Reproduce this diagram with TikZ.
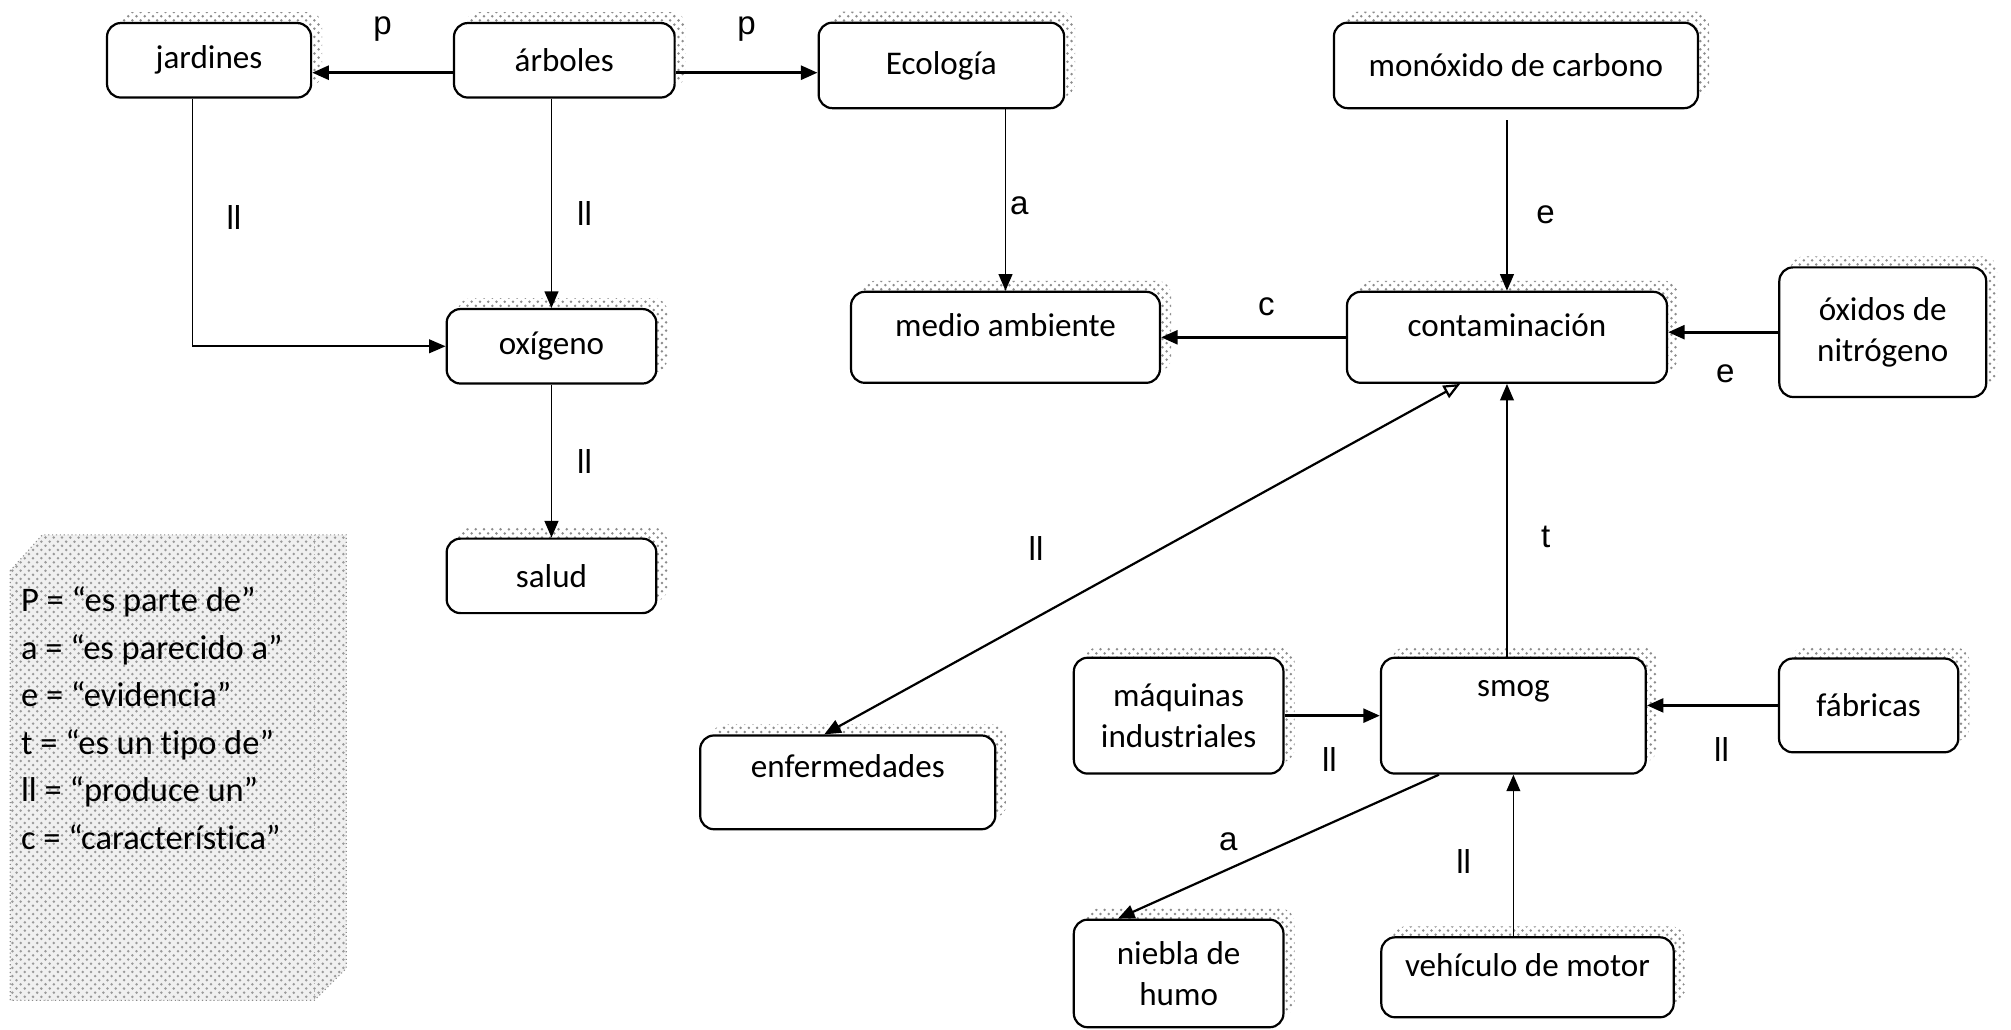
\documentclass[tikz,border=0pt]{standalone}
\usepackage{fontspec}
\setmainfont{Carlito}[Ligatures=NoCommon]
\newfontfamily\arialfont{Liberation Sans}
\usetikzlibrary{calc}
\usetikzlibrary{arrows.meta}
\usetikzlibrary{shadows}
\usetikzlibrary{patterns}

\tikzset{
  concepto/.style={draw=black, line width=0.8pt, rounded corners=5pt, fill=white, align=center,
    font=\fontsize{12}{15}\selectfont, inner sep=2pt,
    general shadow={shadow xshift=4pt, shadow yshift=4pt, pattern=crosshatch dots, pattern color=black!45}},
  flecha/.style={black, line width=0.6pt, -{Triangle[length=6pt,width=5pt]}},
  flechag/.style={flecha, line width=1.1pt},
  rel/.style={font=\arialfont\fontsize{12}{14}\selectfont, inner sep=1pt},
}

\begin{document}
\begin{tikzpicture}[x=0.465pt, y=-0.465pt]

\useasboundingbox (0,0) rectangle (1568,803);

\fill[black!6] (8,445) -- (33,417) -- (270,417) -- (270,755) -- (245,780) -- (8,780) -- cycle;
\fill[pattern=crosshatch dots, pattern color=black!40] (8,445) -- (33,417) -- (270,417) -- (270,755) -- (245,780) -- (8,780) -- cycle;
\draw[black!45, densely dotted] (8,445) -- (33,417) -- (270,417) -- (270,755) -- (245,780) -- (8,780) -- cycle;
\draw[black!30, densely dotted] (245,417) -- (245,780);

\node[font=\fontsize{12.5}{17.2}\selectfont, align=left, anchor=west, inner sep=0pt] (leyenda) at (16,560)
  {P = “es parte de”\\a = “es parecido a”\\e = “evidencia”\\t = “es un tipo de”\\ll = “produce un”\\c = “característica”};

\node[concepto, minimum width=74pt, minimum height=27pt] (jardines) at (163,47) {jardines};
\node[concepto, minimum width=80pt, minimum height=27pt] (arboles) at (440,47) {árboles};
\node[concepto, minimum width=89pt, minimum height=31pt] (ecologia) at (734,51) {Ecología};
\node[concepto, minimum width=132pt, minimum height=31pt] (monoxido) at (1182,51) {monóxido de carbono};
\node[concepto, minimum width=76pt, minimum height=27pt] (oxigeno) at (430,270) {oxígeno};
\node[concepto, minimum width=112pt, minimum height=33pt, text depth=9pt] (medio) at (784,263) {medio ambiente};
\node[concepto, minimum width=116pt, minimum height=33pt, text depth=9pt] (contaminacion) at (1175,263) {contaminación};
\node[concepto, minimum width=75pt, minimum height=47pt] (oxidos) at (1468,259) {óxidos de\\nitrógeno};
\node[concepto, minimum width=76pt, minimum height=27pt] (salud) at (430,449) {salud};
\node[concepto, minimum width=76pt, minimum height=42pt] (maquinas) at (919,558) {máquinas\\industriales};
\node[concepto, minimum width=96pt, minimum height=42pt, text depth=20pt] (smog) at (1180,558) {smog};
\node[concepto, minimum width=65pt, minimum height=34pt] (fabricas) at (1457,550) {fábricas};
\node[concepto, minimum width=107pt, minimum height=34pt, text depth=12pt] (enfermedades) at (661,610) {enfermedades};
\node[concepto, minimum width=76pt, minimum height=39pt] (niebla) at (919,759) {niebla de\\humo};
\node[concepto, minimum width=106pt, minimum height=29pt, text depth=9pt] (vehiculo) at (1191,762) {vehículo de motor};

\draw[flechag] ([yshift=-4.5pt]arboles.west) -- ([yshift=-4.5pt]jardines.east) node[rel, midway, yshift=16pt] {p};
\draw[flechag] ([yshift=-4.5pt]arboles.east) -- ([yshift=-4.5pt]arboles.east -| ecologia.west) node[rel, midway, yshift=16pt] {p};
\draw[flecha] ([xshift=-6pt]jardines.south) |- (oxigeno.west) node[rel, pos=0.24, xshift=15pt] {ll};
\draw[flecha] (arboles.south -| oxigeno.north) -- (oxigeno.north) node[rel, pos=0.55, xshift=12pt] {ll};
\draw[flecha] (oxigeno.south) -- (salud.north) node[rel, midway, xshift=12pt] {ll};
\draw[flecha] (ecologia.south -| medio.north) -- (medio.north) node[rel, pos=0.53, xshift=5pt] {a};
\draw[flecha, shorten <=4pt] (monoxido.south -| contaminacion.north) -- (contaminacion.north) node[rel, pos=0.58, xshift=14pt] {e};
\draw[flechag] (contaminacion.west) -- (medio.east) node[rel, pos=0.43, yshift=11pt] {c};
\draw[flechag] (oxidos.west) -- (oxidos.west -| contaminacion.east) node[rel, pos=0.48, yshift=-15pt] {e};
\draw[black, line width=0.8pt, {Triangle[open,length=6pt,width=5pt]}-{Triangle[length=6pt,width=5pt]}] ([xshift=-17pt]contaminacion.south) -- ([xshift=-8.5pt]enfermedades.north) node[rel, pos=0.667, yshift=25pt] {ll};
\draw[flecha] (smog.north -| contaminacion.south) -- (contaminacion.south) node[rel, pos=0.44, xshift=14pt] {t};
\draw[flechag] (maquinas.east) -- (smog.west) node[rel, pos=0.47, yshift=-16pt] {ll};
\draw[flechag] (fabricas.west) -- (fabricas.west -| smog.east) node[rel, pos=0.43, yshift=-16pt] {ll};
\draw[flecha, line width=0.8pt] ([xshift=-27pt]smog.south) -- ([xshift=-22pt]niebla.north) node[rel, pos=0.656, yshift=10pt] {a};
\draw[flecha] (vehiculo.north -| smog.south) -- (smog.south) node[rel, pos=0.46, xshift=-18pt] {ll};

\end{tikzpicture}
\end{document}
